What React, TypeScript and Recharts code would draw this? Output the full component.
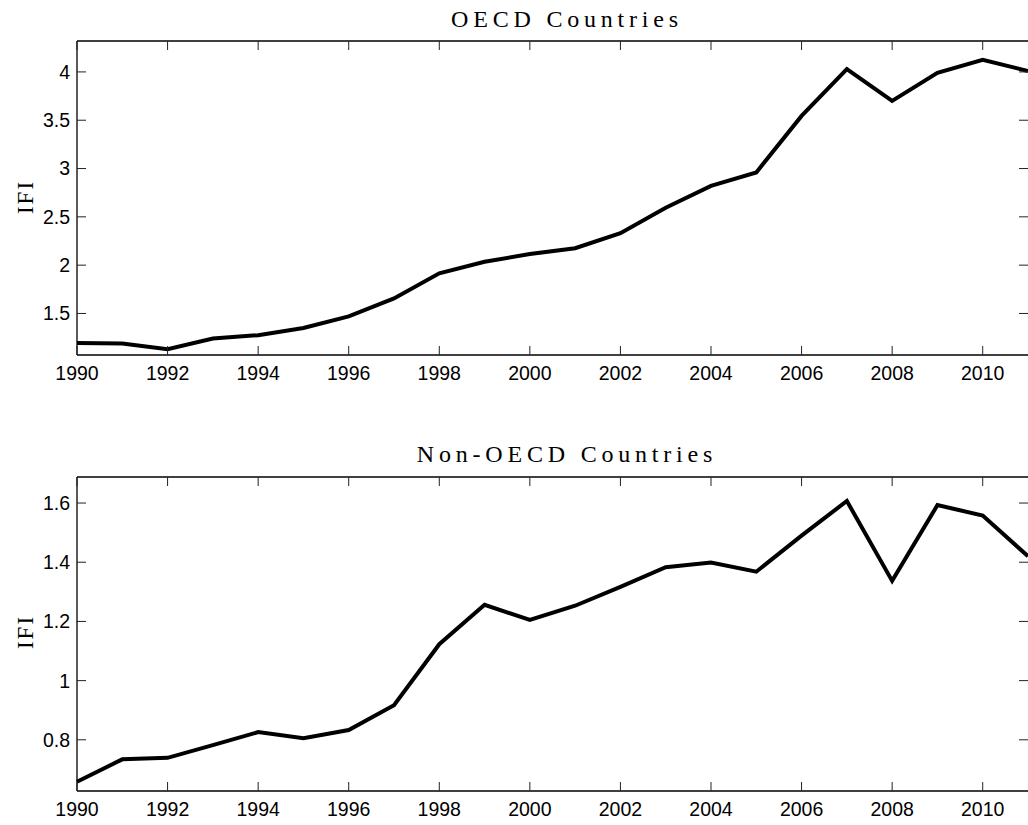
import React from 'react';
import { LineChart, Line, XAxis, YAxis, ReferenceLine } from 'recharts';

const years = [
  1990, 1991, 1992, 1993, 1994, 1995, 1996, 1997, 1998, 1999, 2000,
  2001, 2002, 2003, 2004, 2005, 2006, 2007, 2008, 2009, 2010, 2011,
];

const oecdIfi = [
  1.195, 1.19, 1.13, 1.24, 1.275, 1.35, 1.47, 1.655, 1.915, 2.035, 2.115,
  2.175, 2.33, 2.595, 2.82, 2.96, 3.545, 4.03, 3.7, 3.99, 4.125, 4.01,
];

const nonOecdIfi = [
  0.658, 0.734, 0.739, 0.782, 0.826, 0.805, 0.833, 0.917, 1.123, 1.256, 1.205,
  1.253, 1.317, 1.383, 1.399, 1.368, 1.49, 1.607, 1.337, 1.593, 1.558, 1.42,
];

const xTicks = [1990, 1992, 1994, 1996, 1998, 2000, 2002, 2004, 2006, 2008, 2010];
const oecdTicks = [1.5, 2, 2.5, 3, 3.5, 4];
const nonOecdTicks = [0.8, 1, 1.2, 1.4, 1.6];

const oecdData = years.map((year, i) => ({ year, ifi: oecdIfi[i] }));
const nonOecdData = years.map((year, i) => ({ year, ifi: nonOecdIfi[i] }));

const CHART_W = 1028;
const LEFT = 77;
const TICK = 9;
const sans = '"Liberation Sans", Arial, sans-serif';
const serif = '"Liberation Serif", "Times New Roman", serif';
const axisLine = { stroke: '#000', strokeWidth: 1.3 };

// matlab-style box: ticks point inward on all four sides
const makeXTick = (plotTop: number) => (props: any) => {
  const { x, y, payload } = props;
  return (
    <g>
      <line x1={x} x2={x} y1={y} y2={y - TICK} stroke="#222" strokeWidth={1} />
      <line x1={x} x2={x} y1={plotTop} y2={plotTop + TICK} stroke="#222" strokeWidth={1} />
      <text x={x} y={y + 11} dy="0.71em" textAnchor="middle" fill="#000" fontSize={19.5} fontFamily={sans}>
        {payload.value}
      </text>
    </g>
  );
};

const makeYTick = () => (props: any) => {
  const { x, y, payload } = props;
  return (
    <g>
      <line x1={x} x2={x + TICK} y1={y} y2={y} stroke="#222" strokeWidth={1} />
      <line x1={CHART_W - TICK} x2={CHART_W} y1={y} y2={y} stroke="#222" strokeWidth={1} />
      <text x={x - 7} y={y} dy="0.355em" textAnchor="end" fill="#000" fontSize={19.5} fontFamily={sans}>
        {payload.value}
      </text>
    </g>
  );
};

interface PanelProps {
  data: Array<{ year: number; ifi: number }>;
  domain: [number, number];
  yTicks: number[];
  height: number;
  marginTop: number;
  marginBottom: number;
}

const Panel: React.FC<PanelProps> = ({ data, domain, yTicks, height, marginTop, marginBottom }) => (
  <LineChart
    width={CHART_W}
    height={height}
    data={data}
    margin={{ top: marginTop, right: 0, left: 0, bottom: marginBottom }}
  >
    <XAxis
      dataKey="year"
      type="number"
      domain={[1990, 2011]}
      ticks={xTicks}
      interval={0}
      height={30}
      tickSize={0}
      tickMargin={0}
      tick={makeXTick(marginTop)}
      axisLine={axisLine}
      tickLine={false}
    />
    <YAxis
      type="number"
      domain={domain}
      ticks={yTicks}
      interval={0}
      allowDataOverflow
      width={LEFT}
      tickSize={0}
      tickMargin={0}
      tick={makeYTick()}
      axisLine={axisLine}
      tickLine={false}
    />
    <ReferenceLine y={domain[1]} stroke="#000" strokeWidth={1.3} />
    <Line
      type="linear"
      dataKey="ifi"
      stroke="#000"
      strokeWidth={4}
      dot={false}
      isAnimationActive={false}
    />
  </LineChart>
);

const titleStyle: React.CSSProperties = {
  position: 'absolute',
  left: 267,
  width: 600,
  textAlign: 'center',
  fontFamily: serif,
  fontSize: 24,
  lineHeight: '24px',
  letterSpacing: 4.8,
  color: '#000',
  whiteSpace: 'nowrap',
};

const ylabelStyle: React.CSSProperties = {
  position: 'absolute',
  left: 25,
  fontFamily: serif,
  fontSize: 23,
  lineHeight: '23px',
  letterSpacing: 2,
  color: '#000',
  whiteSpace: 'nowrap',
  transform: 'translate(-50%, -50%) rotate(-90deg)',
};

export default function App() {
  return (
    <div
      style={{
        position: 'absolute',
        left: 0,
        top: 0,
        width: 1028,
        height: 825,
        overflow: 'hidden',
        background: '#fff',
      }}
    >
      <div style={{ position: 'absolute', left: 0, top: 0 }}>
        <Panel data={oecdData} domain={[1.07, 4.32]} yTicks={oecdTicks} height={400} marginTop={41} marginBottom={15} />
      </div>
      <div style={{ position: 'absolute', left: 0, top: 400 }}>
        <Panel data={nonOecdData} domain={[0.627, 1.688]} yTicks={nonOecdTicks} height={425} marginTop={77} marginBottom={4} />
      </div>
      <div style={{ ...titleStyle, top: 7 }}>OECD Countries</div>
      <div style={{ ...titleStyle, top: 442 }}>Non-OECD Countries</div>
      <div style={{ ...ylabelStyle, top: 197 }}>IFI</div>
      <div style={{ ...ylabelStyle, top: 632 }}>IFI</div>
    </div>
  );
}
